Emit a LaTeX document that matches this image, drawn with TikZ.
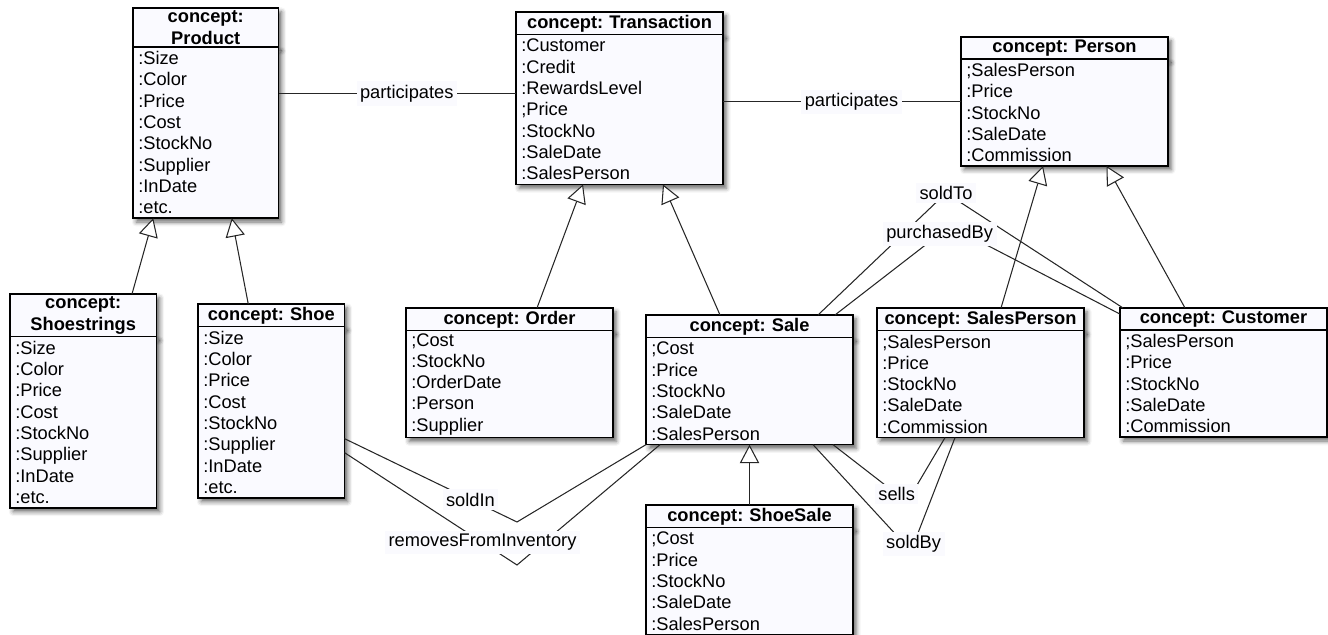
\documentclass[tikz,border=0pt]{standalone}
\usepackage{fontspec}
\setmainfont{Liberation Sans}
\usetikzlibrary{arrows.meta, positioning, shadows.blur}
\definecolor{conceptfill}{RGB}{250,250,255}
\definecolor{labelfill}{RGB}{250,250,254}
\frenchspacing

\begin{document}
\begin{tikzpicture}[
        x=0.02cm, y=-0.02cm,
        font=\fontsize{10.4}{12.13}\selectfont,
        boxshadow/.style={blur shadow={shadow xshift=1.8pt, shadow yshift=-2.2pt, shadow blur radius=2.5pt, shadow opacity=60}},
        head/.style={rectangle, draw=black, line width=0.8pt, fill=conceptfill, outer sep=0pt, anchor=north west, align=center, text width=#1, inner xsep=3pt, inner ysep=1.6pt, minimum height=12.5pt, font=\fontsize{10.4}{12.13}\selectfont\bfseries, boxshadow},
        attrs/.style 2 args={rectangle, draw=black, line width=0.8pt, fill=conceptfill, outer sep=0pt, anchor=north west, align=left, text width=#1, inner xsep=3pt, inner ysep=1pt, minimum height=#2*0.428cm, boxshadow},
        rel/.style={fill=labelfill, inner sep=2pt},
        assoc/.style={draw=black!85, line width=0.6pt},
        isa/.style={-{Triangle[fill=white, length=10.5pt, width=11pt]}, draw=black!85, line width=0.6pt}
    ]
        \useasboundingbox (0,0) rectangle (1328,635);

        % Concepts
        \node[head=2.70cm] (product-head) at (133,8) {concept:\\Product};
        \node[attrs={2.70cm}{8}] (product) at (product-head.south west) {:Size\\:Color\\:Price\\:Cost\\:StockNo\\:Supplier\\:InDate\\:etc.};

        \node[head=3.93cm] (trans-head) at (516,12) {concept: Transaction};
        \node[attrs={3.93cm}{7}] (trans) at (trans-head.south west) {:Customer\\:Credit\\:RewardsLevel\\;Price\\:StockNo\\:SaleDate\\:SalesPerson};

        \node[head=3.93cm] (person-head) at (961,37) {concept: Person};
        \node[attrs={3.93cm}{5}] (person) at (person-head.south west) {;SalesPerson\\:Price\\:StockNo\\:SaleDate\\:Commission};

        \node[head=2.72cm] (shoestr-head) at (10,294) {concept:\\Shoestrings};
        \node[attrs={2.72cm}{8}] (shoestr) at (shoestr-head.south west) {:Size\\:Color\\:Price\\:Cost\\:StockNo\\:Supplier\\:InDate\\:etc.};

        \node[head=2.72cm] (shoe-head) at (198,304) {concept: Shoe};
        \node[attrs={2.72cm}{8}] (shoe) at (shoe-head.south west) {:Size\\:Color\\:Price\\:Cost\\:StockNo\\:Supplier\\:InDate\\:etc.};

        \node[head=3.93cm] (order-head) at (406,308) {concept: Order};
        \node[attrs={3.93cm}{5}] (order) at (order-head.south west) {;Cost\\:StockNo\\:OrderDate\\:Person\\:Supplier};

        \node[head=3.93cm] (sale-head) at (646,315) {concept: Sale};
        \node[attrs={3.93cm}{5}] (sale) at (sale-head.south west) {;Cost\\:Price\\:StockNo\\:SaleDate\\:SalesPerson};

        \node[head=3.93cm] (shoesale-head) at (646,505) {concept: ShoeSale};
        \node[attrs={3.93cm}{5}] (shoesale) at (shoesale-head.south west) {;Cost\\:Price\\:StockNo\\:SaleDate\\:SalesPerson};

        \node[head=3.93cm] (salesp-head) at (877,308) {concept: SalesPerson};
        \node[attrs={3.93cm}{5}] (salesp) at (salesp-head.south west) {;SalesPerson\\:Price\\:StockNo\\:SaleDate\\:Commission};

        \node[head=3.93cm] (customer-head) at (1120,308) {concept: Customer};
        \node[attrs={3.93cm}{5}] (customer) at (customer-head.south west) {;SalesPerson\\:Price\\:StockNo\\:SaleDate\\:Commission};

        % Inheritance
        \draw[isa] ([xshift=0.975cm]shoestr-head.north) -- ([xshift=-1.05cm]product.south);
        \draw[isa] ([xshift=-0.46cm]shoe-head.north) -- ([xshift=0.52cm]product.south);
        \draw[isa] ([xshift=0.55cm]order-head.north) -- ([xshift=-0.73cm]trans.south);
        \draw[isa] ([xshift=-0.59cm]sale-head.north) -- ([xshift=0.87cm]trans.south);
        \draw[isa] (shoesale-head.north) -- (sale.south);
        \draw[isa] ([xshift=0.41cm]salesp-head.north) -- ([xshift=-0.43cm]person.south);
        \draw[isa] ([xshift=-0.77cm]customer-head.north) -- ([xshift=0.84cm]person.south);

        % Relations
        \coordinate (part1) at ([yshift=-0.93cm]product.north east);
        \coordinate (part2) at ([yshift=-1.34cm]trans.north east);
        \coordinate (soldin-v) at (517,522);
        \coordinate (removes-v) at (517,565);
        \coordinate (sells-v) at (907,502);
        \coordinate (soldby-v) at (911,551);
        \coordinate (soldto-v) at (946,193);
        \coordinate (purch-v) at (950,226);

        \draw[assoc] (part1) -- node[rel, pos=0.54] {participates} (part1 -| trans.west);
        \draw[assoc] (part2) -- node[rel, pos=0.54] {participates} (part2 -| person.west);
        \draw[assoc] ([yshift=-2.24cm]shoe.north east) -- node[rel, pos=0.73] {soldIn} (soldin-v) -- (sale.south west);
        \draw[assoc] ([yshift=-2.52cm]shoe.north east) -- node[rel, pos=0.8] {removesFromInventory} (removes-v) -- ([xshift=-1.79cm]sale.south);
        \draw[assoc] ([xshift=1.67cm]sale.south) -- node[rel, pos=0.86] {sells} (sells-v) -- ([xshift=-0.71cm]salesp.south);
        \draw[assoc] ([xshift=1.27cm]sale.south) -- (soldby-v) -- node[rel, pos=0.06] {soldBy} ([xshift=-0.51cm]salesp.south);
        \draw[assoc] ([xshift=1.37cm]sale-head.north) -- (soldto-v) node[rel] {soldTo} -- ([xshift=-2.01cm]customer-head.north);
        \draw[assoc] ([xshift=1.71cm]sale-head.north) -- node[rel, pos=0.91] {purchasedBy} (purch-v) -- ([yshift=0.1cm]customer-head.west);
    \end{tikzpicture}
\end{document}
